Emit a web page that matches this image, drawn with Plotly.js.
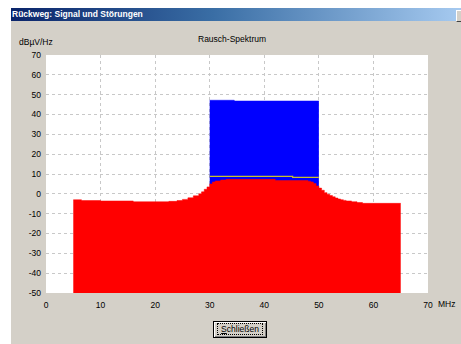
<!DOCTYPE html>
<html>
<head>
<meta charset="utf-8">
<script src="https://cdn.plot.ly/plotly-3.0.1.min.js"></script>
<style>
  html, body { margin:0; padding:0; background:#ffffff; width:461px; height:344px; overflow:hidden; }
  #win { position:absolute; left:11px; top:8px; width:450px; height:336px; background:#d4d0c8; }
  #titlebar { position:absolute; left:11px; top:8px; width:450px; height:13px;
              background:linear-gradient(to right, #0a246a 0%, #3a6ea5 45%, #a6caf0 100%); }
  #titletext { position:absolute; left:12px; top:8px; height:13px; line-height:13px;
               font-family:"Liberation Sans", Arial, sans-serif; font-weight:bold; font-size:8.5px; color:#ffffff; white-space:nowrap; }
  #closebtn { position:absolute; left:456px; top:10px; width:6px; height:10px; background:#d4d0c8;
              border-top:1px solid #fff; border-left:1px solid #fff; border-bottom:1px solid #404040; }
  #btn { position:absolute; left:213px; top:321px; width:52px; height:15px; background:#d4d0c8;
         border:1px solid #000; box-shadow: inset 1px 1px 0 #fff, inset -1px -1px 0 #808080;
         font-family:"Liberation Sans", Arial, sans-serif; font-size:8.5px; color:#000; text-align:center; line-height:15px; }
  #btn span.focus { border:1px dotted #000; padding:0 3px; }
  #chart { position:absolute; left:0; top:0; width:461px; height:344px; }
</style>
</head>
<body>
<div id="win"></div>
<div id="titlebar"></div>
<div id="titletext">Rückweg: Signal und Störungen</div>
<div id="closebtn"></div>
<div id="chart"></div>
<div id="btn"><span class="focus"><u>S</u>chließen</span></div>
<script>
// ---- data ----
var chartTitle = "Rausch-Spektrum";
var yUnit = "dBµV/Hz";
var xUnit = "MHz";
var xTicks = [0, 10, 20, 30, 40, 50, 60, 70];
var yTicks = [-50, -40, -30, -20, -10, 0, 10, 20, 30, 40, 50, 60, 70];

// noise spectrum (red, step shape, left edges of steps)
var noiseFreq  = [5, 6.5, 10, 16, 22.5, 24, 25, 26, 27, 28, 28.5, 29, 29.5, 30, 30.5, 31, 32, 33, 42, 48, 48.5, 49, 49.5, 50, 50.5, 51, 51.5, 52, 52.5, 53, 53.5, 54, 54.5, 55, 56, 57, 58, 65];
var noiseLevel = [-3.0, -3.4, -3.6, -4.0, -3.8, -3.4, -2.8, -2.0, -1.0, 0.0, 1.0, 2.3, 3.5, 5.0, 6.0, 6.5, 7.0, 7.3, 6.7, 6.4, 6.0, 5.2, 4.0, 2.9, 1.8, 0.6, -0.2, -0.9, -1.5, -2.1, -2.6, -3.0, -3.3, -3.6, -4.0, -4.4, -4.8, -4.8];

// signal (blue)
var signalFreq  = [30, 34.5, 50];
var signalLevel = [47.2, 46.8, 46.8];

// threshold line (yellow)
var lineFreq  = [30, 45.2, 50];
var lineLevel = [8.8, 8.3, 8.3];

var floorLevel = -50;

var traces = [
  { x:[signalFreq[0], signalFreq[signalFreq.length-1]], y:[floorLevel, floorLevel], mode:'lines',
    line:{width:0, color:'rgba(0,0,0,0)'}, hoverinfo:'skip', showlegend:false },
  { x:signalFreq, y:signalLevel, mode:'lines', line:{shape:'hv', width:0.5, color:'#0000ff'},
    fill:'tonexty', fillcolor:'#0000ff', showlegend:false },
  { x:[noiseFreq[0], noiseFreq[noiseFreq.length-1]], y:[floorLevel, floorLevel], mode:'lines',
    line:{width:0, color:'rgba(0,0,0,0)'}, hoverinfo:'skip', showlegend:false },
  { x:noiseFreq, y:noiseLevel, mode:'lines', line:{shape:'hv', width:0.5, color:'#ff0000'},
    fill:'tonexty', fillcolor:'#ff0000', showlegend:false },
  { x:lineFreq, y:lineLevel, mode:'lines', line:{shape:'hv', width:1.2, color:'#c8c030'}, showlegend:false }
];

var tickFont = {family:'"Liberation Sans", Arial, sans-serif', size:8.5, color:'#000000'};

var layout = {
  width:461, height:344,
  margin:{l:46, r:33, t:55, b:51, pad:0},
  paper_bgcolor:'rgba(0,0,0,0)',
  plot_bgcolor:'#ffffff',
  showlegend:false,
  xaxis:{range:[0,70], tickvals:xTicks, ticktext:xTicks.map(String), showgrid:true,
         gridcolor:'#c8c8c8', griddash:'3px,3px', gridwidth:1, zeroline:false, showline:false,
         ticks:'', tickfont:tickFont, ticklabelstandoff:5, fixedrange:true},
  yaxis:{range:[-50,70], tickvals:yTicks, ticktext:yTicks.map(String), showgrid:true,
         gridcolor:'#c8c8c8', griddash:'3px,3px', gridwidth:1, zeroline:false, showline:false,
         ticks:'', tickfont:tickFont, ticklabelstandoff:4, fixedrange:true},
  annotations:[
    {text:chartTitle, xref:'paper', yref:'paper', x:0.487, y:1, yshift:16, xanchor:'center', yanchor:'middle',
     showarrow:false, font:tickFont},
    {text:yUnit, xref:'paper', yref:'paper', x:0, y:1, xshift:-29, yshift:13, xanchor:'left', yanchor:'middle',
     showarrow:false, font:tickFont},
    {text:xUnit, xref:'paper', yref:'paper', x:1, y:0, xshift:8, yshift:-11, xanchor:'left', yanchor:'middle',
     showarrow:false, font:tickFont}
  ]
};

Plotly.newPlot('chart', traces, layout, {staticPlot:true, displayModeBar:false});
</script>
</body>
</html>
